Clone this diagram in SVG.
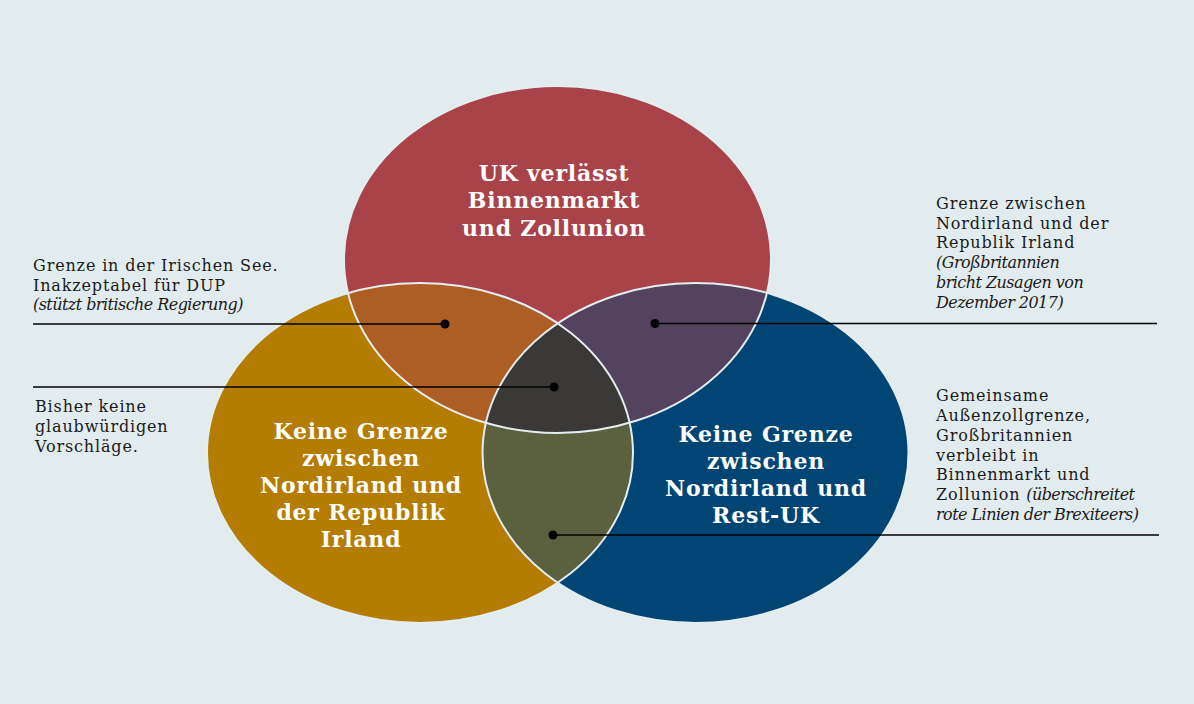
<svg xmlns="http://www.w3.org/2000/svg" width="1194" height="704" viewBox="0 0 1194 704">
<style>
.lbl{font-family:"DejaVu Serif","Liberation Serif",serif;font-weight:bold;font-size:22px;fill:#ffffff;text-anchor:middle;letter-spacing:0.8px}
.ann{font-family:"DejaVu Serif","Liberation Serif",serif;font-size:16px;fill:#1a1a1a;letter-spacing:0.85px}
.it{font-style:italic;letter-spacing:-0.55px}
.edge{fill:none;stroke:#e4edf0;stroke-width:2}
.lead{stroke:#000;stroke-width:1.4;fill:none}
.dot{fill:#000}
</style>
<defs>
<clipPath id="cR"><ellipse cx="557.5" cy="259.5" rx="213.5" ry="173.5"/></clipPath>
<clipPath id="cG"><ellipse cx="420" cy="453" rx="213" ry="170"/></clipPath>
<clipPath id="cB"><ellipse cx="695.5" cy="453" rx="213" ry="170"/></clipPath>
</defs>
<rect x="0" y="0" width="1194" height="704" fill="#e2ecef"/>
<g id="fills">
<ellipse cx="557.5" cy="259.5" rx="213.5" ry="173.5" fill="#a84349"/>
<ellipse cx="420" cy="453" rx="213" ry="170" fill="#b47c00"/>
<ellipse cx="695.5" cy="453" rx="213" ry="170" fill="#004574"/>
<ellipse cx="420" cy="453" rx="213" ry="170" fill="#ad5e24" clip-path="url(#cR)"/>
<ellipse cx="695.5" cy="453" rx="213" ry="170" fill="#54435e" clip-path="url(#cR)"/>
<ellipse cx="695.5" cy="453" rx="213" ry="170" fill="#5b603e" clip-path="url(#cG)"/>
<g clip-path="url(#cR)"><ellipse cx="695.5" cy="453" rx="213" ry="170" fill="#3a3937" clip-path="url(#cG)"/></g>
<ellipse class="edge" cx="557.5" cy="259.5" rx="213.5" ry="173.5"/>
<ellipse class="edge" cx="420" cy="453" rx="213" ry="170"/>
<ellipse class="edge" cx="695.5" cy="453" rx="213" ry="170"/>
</g>
<g id="node-uk">
<text class="lbl" x="554" y="181">UK verlässt</text>
<text class="lbl" x="554" y="208">Binnenmarkt</text>
<text class="lbl" x="554" y="236">und Zollunion</text>
</g>
<g id="node-irland">
<text class="lbl" x="361" y="439">Keine Grenze</text>
<text class="lbl" x="361" y="466">zwischen</text>
<text class="lbl" x="361" y="493">Nordirland und</text>
<text class="lbl" x="361" y="520">der Republik</text>
<text class="lbl" x="361" y="547">Irland</text>
</g>
<g id="node-restuk">
<text class="lbl" x="766" y="442">Keine Grenze</text>
<text class="lbl" x="766" y="469">zwischen</text>
<text class="lbl" x="766" y="496">Nordirland und</text>
<text class="lbl" x="766" y="523">Rest-UK</text>
</g>
<g id="note-see">
<text class="ann" x="33" y="271">Grenze in der Irischen See.</text>
<text class="ann" x="33" y="291">Inakzeptabel für DUP</text>
<text class="ann it" x="33" y="310">(stützt britische Regierung)</text>
</g>
<g id="note-bisher">
<text class="ann" x="35" y="412">Bisher keine</text>
<text class="ann" x="35" y="432">glaubwürdigen</text>
<text class="ann" x="35" y="452">Vorschläge.</text>
</g>
<g id="note-grenze">
<text class="ann" x="936" y="209">Grenze zwischen</text>
<text class="ann" x="936" y="229">Nordirland und der</text>
<text class="ann" x="936" y="248">Republik Irland</text>
<text class="ann it" x="936" y="268">(Großbritannien</text>
<text class="ann it" x="936" y="288">bricht Zusagen von</text>
<text class="ann it" x="936" y="308">Dezember 2017)</text>
</g>
<g id="note-zoll">
<text class="ann" x="936" y="401">Gemeinsame</text>
<text class="ann" x="936" y="421">Außenzollgrenze,</text>
<text class="ann" x="936" y="441">Großbritannien</text>
<text class="ann" x="936" y="461">verbleibt in</text>
<text class="ann" x="936" y="480">Binnenmarkt und</text>
<text class="ann" x="936" y="500">Zollunion <tspan class="it">(überschreitet</tspan></text>
<text class="ann it" x="936" y="520">rote Linien der Brexiteers)</text>
</g>
<g id="connectors">
<line class="lead" x1="33" y1="324" x2="445" y2="324"/>
<circle class="dot" cx="445" cy="324" r="4.5"/>
<line class="lead" x1="33" y1="387" x2="554" y2="387"/>
<circle class="dot" cx="554" cy="387" r="4.5"/>
<line class="lead" x1="655" y1="323.5" x2="1157" y2="323.5"/>
<circle class="dot" cx="655" cy="323.5" r="4.5"/>
<line class="lead" x1="553" y1="535" x2="1159" y2="535"/>
<circle class="dot" cx="553" cy="535" r="4.5"/>
</g>
</svg>
